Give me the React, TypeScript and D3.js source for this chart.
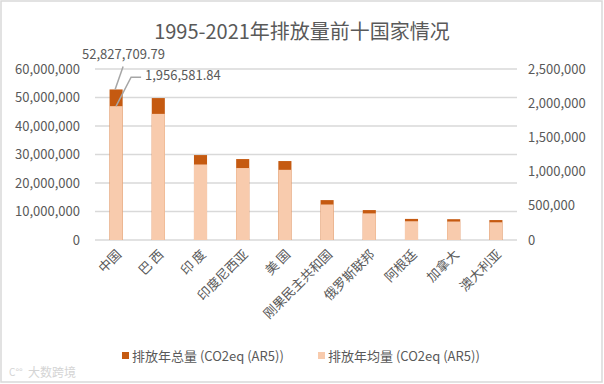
import * as d3 from 'd3'

const countries = ['中国', '巴 西', '印 度', '印度尼西亚', '美 国', '刚果民主共和国', '俄罗斯联邦', '阿根廷', '加拿大', '澳大利亚']
const totals = [52827709.79, 49800000, 29800000, 28400000, 27700000, 14000000, 10500000, 7400000, 7300000, 7000000]
const averages = [1956581.84, 1844000, 1104000, 1052000, 1026000, 519000, 389000, 274000, 270000, 259000]
const leftTicks = [0, 10000000, 20000000, 30000000, 40000000, 50000000, 60000000]
const rightTicks = [0, 500000, 1000000, 1500000, 2000000, 2500000]
const seriesNames = ['排放年总量 (CO2eq (AR5))', '排放年均量 (CO2eq (AR5))']

const W = 604
const H = 384
const font = '"Noto Sans CJK SC", "Liberation Sans", sans-serif'
const grey = '#595959'
const darkColor = '#C55A11'
const lightColor = '#F8CBAD'

export default function App() {
    const plot = { left: 95, right: 517, top: 69, bottom: 240 }

    const x = d3.scaleBand<string>()
        .domain(countries)
        .range([plot.left, plot.right])
        .paddingInner(0.69)
        .paddingOuter(0.345)

    const yLeft = d3.scaleLinear().domain([0, 60000000]).range([plot.bottom, plot.top])
    const yRight = d3.scaleLinear().domain([0, 2500000]).range([plot.bottom, plot.top])

    const fmt = d3.format(',')
    const fmt2 = d3.format(',.2f')

    const cx0 = (x(countries[0]) as number) + x.bandwidth() / 2
    const topTotal = yLeft(totals[0])
    const topAvg = yRight(averages[0])

    return (
        <svg width={W} height={H} style={{ position: 'absolute', left: 0, top: 0 }} fontFamily={font}>
            <rect x={1} y={1} width={W - 3} height={H - 3} fill="#fff" stroke="#d9d9d9" strokeWidth={1.5} />

            <text x={302} y={39} textAnchor="middle" fontSize={20} fill={grey}>1995-2021年排放量前十国家情况</text>

            {leftTicks.map((t) => (
                <g key={'l' + t}>
                    <line x1={plot.left} x2={plot.right} y1={yLeft(t)} y2={yLeft(t)} stroke="#d9d9d9" strokeWidth={1.3} />
                    <text x={80} y={yLeft(t)} dy="0.35em" textAnchor="end" fontSize={13} fill={grey}>{fmt(t)}</text>
                </g>
            ))}
            {rightTicks.map((t) => (
                <text key={'r' + t} x={528} y={yRight(t)} dy="0.35em" textAnchor="start" fontSize={13} fill={grey}>{fmt(t)}</text>
            ))}

            {countries.map((c, i) => (
                <g key={c}>
                    <rect x={x(c)} width={x.bandwidth()} y={yLeft(totals[i])} height={plot.bottom - yLeft(totals[i])} fill={darkColor} />
                    <rect x={x(c)} width={x.bandwidth()} y={yRight(averages[i])} height={plot.bottom - yRight(averages[i])} fill={lightColor} />
                    <text
                        transform={`translate(${(x(c) as number) + x.bandwidth() / 2 + 3},${plot.bottom + 12}) rotate(-45)`}
                        textAnchor="end" dy="0.35em" fontSize={13} fill={grey}
                    >{c}</text>
                </g>
            ))}

            {/* data labels for the first bar */}
            <polyline points={`${cx0 - 1},${topTotal} ${cx0 + 7},${topTotal - 23}`} fill="none" stroke="#a6a6a6" strokeWidth={1.5} />
            <text x={82} y={59} fontSize={13} fill={grey}>{fmt2(totals[0])}</text>
            <polyline points={`${cx0},${topAvg} ${cx0 + 15},${topAvg - 29} ${cx0 + 25},${topAvg - 29}`} fill="none" stroke="#a6a6a6" strokeWidth={1.5} />
            <text x={145} y={80} fontSize={13} fill={grey}>{fmt2(averages[0])}</text>

            {/* legend */}
            {seriesNames.map((s, i) => (
                <g key={s} transform={`translate(${i === 0 ? 122 : 318},356)`}>
                    <rect x={0} y={-4} width={7} height={7} fill={i === 0 ? darkColor : lightColor} />
                    <text x={10} y={0} dy="0.35em" fontSize={13} fill={grey}>{s}</text>
                </g>
            ))}

            <text x={28} y={377} fontSize={12} fill="#d4d4d4">大数跨境</text>
            <text x={9} y={376} fontSize={10} fill="#d4d4d4">C°°</text>
        </svg>
    )
}
